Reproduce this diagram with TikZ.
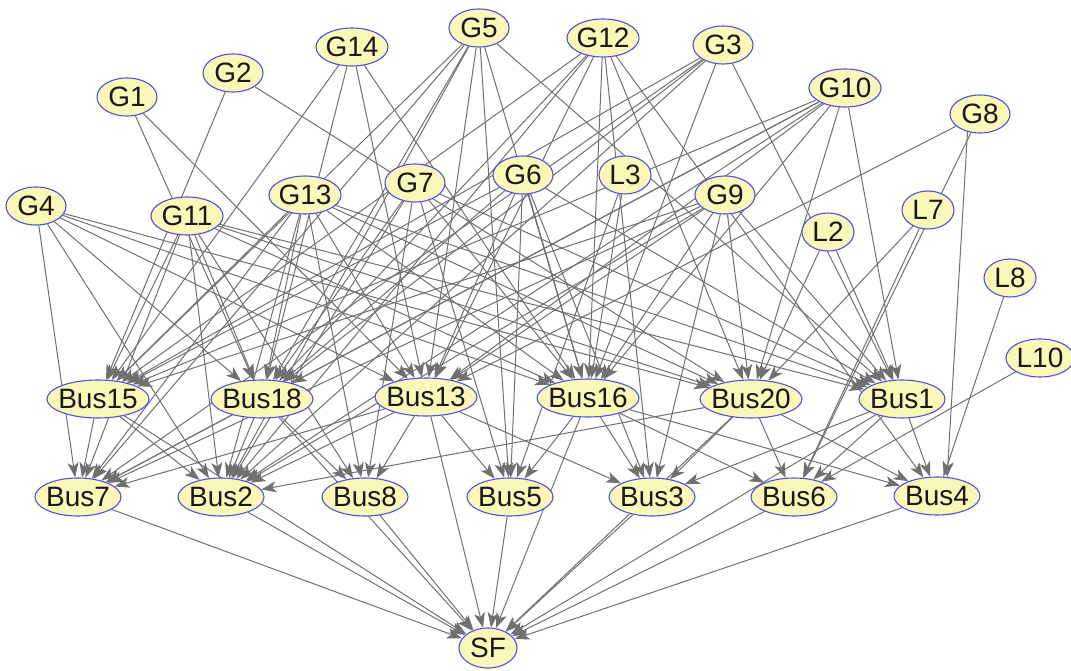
\documentclass[tikz,border=0pt]{standalone}
\usepackage{fontspec}
\setmainfont{Liberation Sans}
\usetikzlibrary{shapes.geometric,arrows.meta}
\definecolor{nodefill}{RGB}{250,248,185}
\definecolor{nodeline}{RGB}{80,80,225}
\definecolor{edgecol}{RGB}{112,112,112}
\pgfdeclarelayer{bg}
\pgfsetlayers{bg,main}
\begin{document}
\begin{tikzpicture}[x=1pt,y=-1pt,
  nd/.style={ellipse, draw=nodeline, line width=1.1pt, fill=nodefill,
    inner xsep=-12pt, inner ysep=-6pt, minimum height=38pt,
    font=\fontsize{28}{30}\selectfont, text=black!90},
  g1/.style={nd, minimum width=60pt},
  g2/.style={nd, minimum width=72pt},
  l1/.style={nd, minimum width=52pt},
  l2/.style={nd, minimum width=68pt},
  b1/.style={nd, minimum width=86pt},
  b2/.style={nd, minimum width=102pt},
  edge/.style={draw=edgecol, line width=1pt, -{Stealth[length=15pt,width=11pt,inset=4pt]}}]
\useasboundingbox (0,0) rectangle (1071,671);

% generators and loads
\node[g1] (G5)  at (479,28)  {G5};
\node[g2] (G14) at (352,47)  {G14};
\node[g2] (G12) at (603,38)  {G12};
\node[g1] (G3)  at (723,45)  {G3};
\node[g1] (G2)  at (233,73)  {G2};
\node[g1] (G1)  at (127,97)  {G1};
\node[g2] (G10) at (845,88)  {G10};
\node[g1] (G8)  at (980,114) {G8};
\node[g1] (G4)  at (36,206)  {G4};
\node[g2] (G11) at (187,216) {G11};
\node[g2] (G13) at (305,195) {G13};
\node[g1] (G7)  at (415,183) {G7};
\node[g1] (G6)  at (523,175) {G6};
\node[l1] (L3)  at (625,175) {L3};
\node[g1] (G9)  at (725,195) {G9};
\node[l1] (L2)  at (828,232) {L2};
\node[l1] (L7)  at (928,210) {L7};
\node[l1] (L8)  at (1010,278) {L8};
\node[l2] (L10) at (1040,358) {L10};

% upper bus row
\node[b2] (Bus15) at (98,399)  {Bus15};
\node[b2] (Bus18) at (262,399) {Bus18};
\node[b2] (Bus13) at (426,397) {Bus13};
\node[b2] (Bus16) at (588,398) {Bus16};
\node[b2] (Bus20) at (751,399) {Bus20};
\node[b1] (Bus1)  at (902,399) {Bus1};

% lower bus row
\node[b1] (Bus7) at (78,497)  {Bus7};
\node[b1] (Bus2) at (221,497) {Bus2};
\node[b1] (Bus8) at (365,497) {Bus8};
\node[b1] (Bus5) at (510,497) {Bus5};
\node[b1] (Bus3) at (652,497) {Bus3};
\node[b1] (Bus6) at (794,497) {Bus6};
\node[b1] (Bus4) at (937,496) {Bus4};

% sink
\node[nd, minimum width=58pt, minimum height=40pt] (SF) at (488,648) {SF};

\begin{pgfonlayer}{bg}
\foreach \s/\t in {
  G1/Bus18, G1/Bus13,
  G2/Bus15, G2/Bus20,
  G4/Bus7, G4/Bus18, G4/Bus2, G4/Bus13, G4/Bus20, G4/Bus16,
  G11/Bus15, G11/Bus7, G11/Bus2, G11/Bus18, G11/Bus8, G11/Bus16, G11/Bus20, G11/Bus1,
  G13/Bus15, G13/Bus7, G13/Bus18, G13/Bus2, G13/Bus8, G13/Bus13, G13/Bus16, G13/Bus20, G13/Bus1,
  G14/Bus15, G14/Bus18, G14/Bus13, G14/Bus16,
  G5/Bus15, G5/Bus18, G5/Bus7, G5/Bus2, G5/Bus13, G5/Bus5, G5/Bus16, G5/Bus1,
  G7/Bus18, G7/Bus2, G7/Bus8, G7/Bus5, G7/Bus16, G7/Bus1,
  G6/Bus15, G6/Bus18, G6/Bus13, G6/Bus5, G6/Bus16, G6/Bus3, G6/Bus1,
  G12/Bus15, G12/Bus18, G12/Bus13, G12/Bus2, G12/Bus16, G12/Bus3, G12/Bus20, G12/Bus4,
  L3/Bus16, L3/Bus5,
  G3/Bus15, G3/Bus18, G3/Bus7, G3/Bus2, G3/Bus16, G3/Bus1,
  G9/Bus15, G9/Bus7, G9/Bus2, G9/Bus13, G9/Bus16, G9/Bus3, G9/Bus20, G9/Bus1,
  G10/Bus15, G10/Bus18, G10/Bus13, G10/Bus7, G10/Bus2, G10/Bus16, G10/Bus20, G10/Bus1,
  L2/Bus20, L2/Bus1,
  L7/Bus20, L7/Bus6,
  G8/Bus13, G8/Bus6,
  L8/Bus4,
  L10/Bus6,
  Bus15/Bus7, Bus15/Bus2, Bus15/SF,
  Bus18/Bus7, Bus18/Bus2, Bus18/Bus8, Bus18/SF,
  Bus13/Bus7, Bus13/Bus2, Bus13/Bus8, Bus13/Bus5, Bus13/Bus3, Bus13/SF,
  Bus16/Bus5, Bus16/Bus3, Bus16/Bus6, Bus16/Bus4, Bus16/SF,
  Bus20/Bus2, Bus20/Bus3, Bus20/Bus6, Bus20/Bus4, Bus20/SF,
  Bus1/Bus3, Bus1/Bus6, Bus1/Bus4, Bus1/SF,
  Bus7/SF, Bus2/SF, Bus8/SF, Bus5/SF, Bus3/SF, Bus6/SF, Bus4/SF}
  \draw[edge] (\s) -- (\t);
% the straight drop from G8 to Bus4
\draw[edge] (G8.235) -- (Bus4.62);
\end{pgfonlayer}
\end{tikzpicture}
\end{document}
